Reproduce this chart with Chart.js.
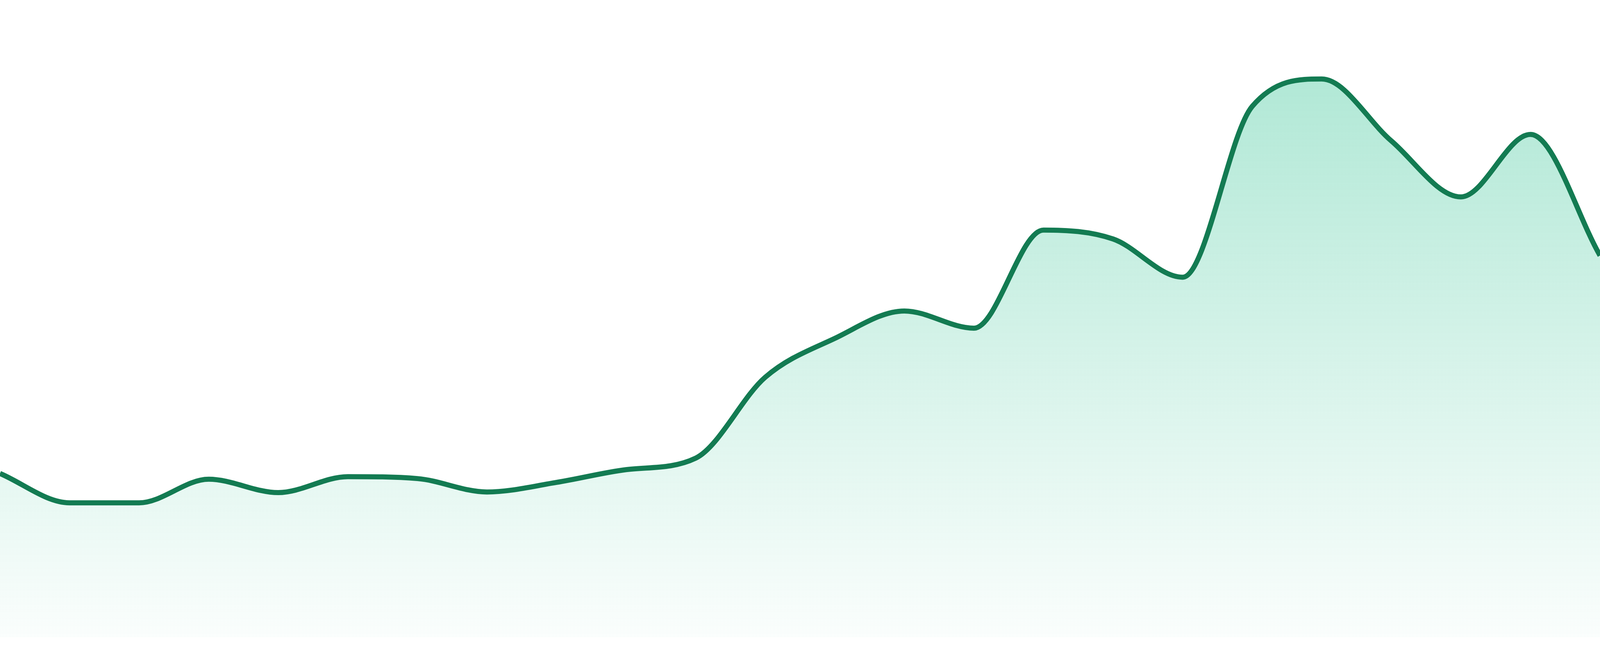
<!DOCTYPE html>
<html>
<head>
<meta charset="utf-8">
<script src="https://cdn.jsdelivr.net/npm/chart.js@4/dist/chart.umd.min.js"></script>
<style>
  html, body { margin: 0; padding: 0; background: #fff; overflow: hidden; }
  #wrap { position: relative; width: 100vw; height: 100vh; }
</style>
</head>
<body>
<div id="wrap"><canvas id="chart"></canvas></div>
<script>
// hourly readings, one per hour
const hours = ['00:00','01:00','02:00','03:00','04:00','05:00','06:00','07:00',
               '08:00','09:00','10:00','11:00','12:00','13:00','14:00','15:00',
               '16:00','17:00','18:00','19:00','20:00','21:00','22:00','23:00'];
const values = [25.7, 21.1, 21.1, 24.8, 22.7, 25.2, 24.9, 22.8,
                24.3, 26.3, 28.1, 40.8, 46.9, 51.2, 48.5, 63.9,
                62.5, 56.5, 83.3, 87.6, 77.9, 69.1, 78.9, 59.9];
const yMin = 0;
const yMax = 100;

const lineColor = '#137b52';

function areaFill(context) {
    const area = context.chart.chartArea;
    if (!area) return 'rgba(16,185,129,0.2)';
    const g = context.chart.ctx.createLinearGradient(0, area.top, 0, area.bottom);
    g.addColorStop(0, 'rgba(16,185,129,0.37)');
    g.addColorStop(1, 'rgba(16,185,129,0.02)');
    return g;
}

// padding and line width scale with the window height (reference is 1680 tall)
const unit = window.innerHeight / 1680;

const ctx = document.getElementById('chart').getContext('2d');
const chart = new Chart(ctx, {
    type: 'line',
    data: {
        labels: hours,
        datasets: [{
            data: values,
            borderColor: lineColor,
            borderWidth: 13 * unit,
            backgroundColor: areaFill,
            fill: 'start',
            cubicInterpolationMode: 'monotone',
            pointRadius: 0
        }]
    },
    options: {
        responsive: true,
        maintainAspectRatio: false,
        animation: false,
        layout: { padding: { left: 0, right: 0, top: 0, bottom: 48 * unit } },
        plugins: {
            legend: { display: false },
            tooltip: { enabled: false }
        },
        scales: {
            x: { display: false, offset: false },
            y: { display: false, min: yMin, max: yMax }
        }
    }
});
</script>
</body>
</html>
